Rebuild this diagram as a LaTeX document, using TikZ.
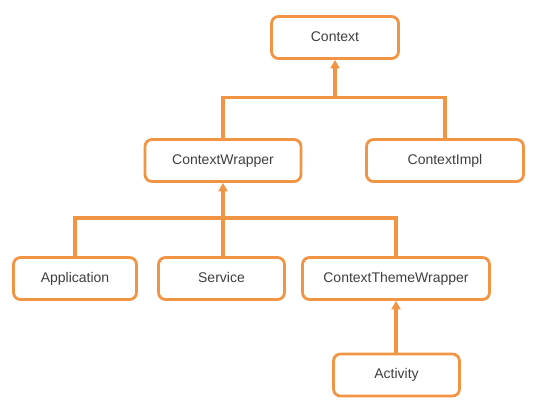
\documentclass[tikz,border=0pt]{standalone}
\usepackage{fontspec}
\setmainfont{Liberation Sans}
\usepackage{tikz}
\usetikzlibrary{arrows.meta}

\begin{document}
\begin{tikzpicture}[x = 1pt, y = -1pt,
        classBox/.style = {draw = lineColor, line width = 2.8pt, rounded corners = 7pt,
            minimum height = 42pt, inner sep = 0pt, text = nodeColor,
            text height = 10pt, text depth = 3pt,
            font = \fontsize{14}{16}\selectfont},
        link/.style = {draw = lineColor, line width = 3.2pt},
        linkArrow/.style = {link, -{Triangle[width = 9pt, length = 8.5pt]}}]
            % \draw [help lines,step = 10pt] (0,0) grid (538,408);
            \useasboundingbox (0,0) rectangle (538,408);

            \definecolor{lineColor}{RGB}{241,149,68};
            \definecolor{nodeColor}{RGB}{62,62,66};

            \node [classBox, minimum width = 127pt] (context) at (335,37.5) {Context};

            \node [classBox, minimum width = 156pt] (contextWrapper) at (223,160.5) {ContextWrapper};
            \node [classBox, minimum width = 157pt] (contextImpl) at (445,160.5) {ContextImpl};

            \node [classBox, minimum width = 123pt] (application) at (75,278.5) {Application};
            \node [classBox, minimum width = 126pt] (service) at (221.5,278.5) {Service};
            \node [classBox, minimum width = 187pt] (themeWrapper) at (396,278.5) {ContextThemeWrapper};

            \node [classBox, minimum width = 126pt] (activity) at (396.5,375) {Activity};

            % joins of the two trees
            \coordinate (topJoin) at (context.south |- 0,97.5);
            \coordinate (midJoin) at (contextWrapper.south |- 0,218);

            \draw [link] (contextWrapper.north) |- (topJoin) -| (contextImpl.north);
            \draw [linkArrow] (topJoin) -- (context.south);

            \draw [link] (application.north) |- (midJoin) -| (themeWrapper.north);
            \draw [link] (midJoin) -- (contextWrapper.south |- service.north);
            \draw [linkArrow] (midJoin) -- (contextWrapper.south);

            \draw [linkArrow] (themeWrapper.south |- activity.north) -- (themeWrapper.south);

        \end{tikzpicture}
\end{document}
